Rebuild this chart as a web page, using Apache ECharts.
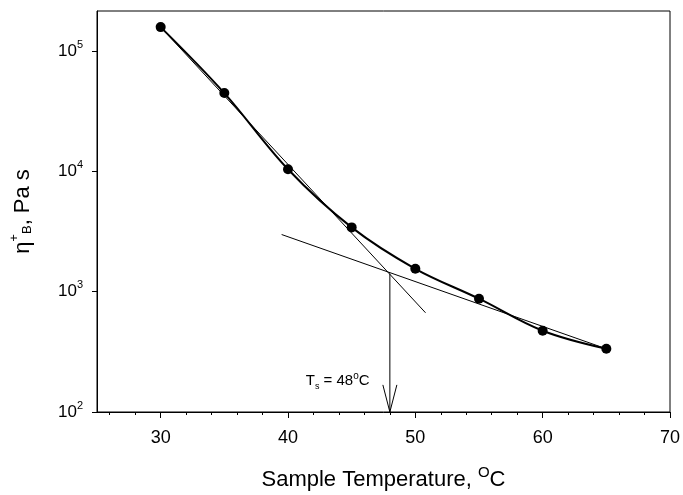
<!DOCTYPE html>
<html>
<head>
<meta charset="utf-8">
<script src="https://cdn.jsdelivr.net/npm/echarts@6/dist/echarts.min.js"></script>
<style>
    html,body{margin:0;padding:0;background:#fff;}
    #chart{width:683px;height:495px;}
</style>
</head>
<body>
<div id="chart"></div>
<script>
    // measured points: sample temperature (C) vs viscosity (Pa s)
    var temps = [30, 35, 40, 45, 50, 55, 60, 65];
    var visc = [158000, 44700, 10400, 3420, 1550, 874, 473, 335];
    // tangent lines drawn on the plot
    var lineSteep = [[30, 158000], [50.8, 668]];
    var lineFlat = [[39.5, 2985], [65, 335]];
    // softening point arrow
    var arrowShaft = [[48, 1413], [48, 100]];
    var arrowHead = [[47.45, 168], [48, 100], [48.55, 168]];
    var xMajor = [30, 40, 50, 60, 70];
    var xMinor = [26, 28, 32, 34, 36, 38, 42, 44, 46, 48, 52, 54, 56, 58, 62, 64, 66, 68];
    var yMajor = [100, 1000, 10000, 100000];

    var font = 'Liberation Sans, Arial, sans-serif';
    var myChart = echarts.init(document.getElementById('chart'));

    var points = temps.map(function (t, i) { return [t, visc[i]]; });

    function plain(data, w) {
        return {
            type: 'line', data: data, symbol: 'none', silent: true, clip: false,
            lineStyle: {color: '#000', width: w}, z: 3
        };
    }

    var option = {
        animation: false,
        grid: {
            left: 97, right: 13, top: 11, bottom: 83, outerBoundsMode: 'none', containLabel: false,
            show: true, borderColor: '#000', borderWidth: 1
        },
        xAxis: [{
            type: 'value', min: 25, max: 70,
            name: '{t|Sample Temperature, }{s|O}{t|C}',
            nameLocation: 'middle', nameGap: 53,
            nameTextStyle: {
                rich: {
                    t: {fontFamily: font, fontSize: 22, color: '#000', lineHeight: 30},
                    s: {fontFamily: font, fontSize: 15, color: '#000', verticalAlign: 'top', lineHeight: 30}
                }
            },
            splitLine: {show: false},
            axisLine: {lineStyle: {color: '#000', width: 1}},
            axisTick: {length: 6, lineStyle: {color: '#000'}, customValues: xMajor},
            axisLabel: {customValues: xMajor, fontFamily: font, fontSize: 18, color: '#000', margin: 17}
        }, {
            type: 'value', min: 25, max: 70, position: 'bottom', gridIndex: 0,
            splitLine: {show: false},
            axisLine: {show: false},
            axisTick: {length: 3, lineStyle: {color: '#000'}, customValues: xMinor},
            axisLabel: {show: false}
        }],
        yAxis: {
            type: 'log', min: 100, max: 215000, logBase: 10,
            name: '{t|η}{p|+}{b|B}{t|, Pa s}',
            nameLocation: 'middle', nameGap: 59, nameRotate: 90,
            nameTextStyle: {
                rich: {
                    t: {fontFamily: font, fontSize: 22, color: '#000', lineHeight: 30},
                    p: {fontFamily: font, fontSize: 13, color: '#000', verticalAlign: 'top', lineHeight: 30},
                    b: {fontFamily: font, fontSize: 13, color: '#000', verticalAlign: 'middle', lineHeight: 30, padding: [8, 0, 0, 0]}
                }
            },
            splitLine: {show: false},
            axisLine: {lineStyle: {color: '#000', width: 1}},
            axisTick: {length: 5, lineStyle: {color: '#000'}, customValues: yMajor},
            axisLabel: {
                customValues: yMajor, margin: 14,
                formatter: function (v) {
                    return '{b|10}{s|' + Math.round(Math.log10(v)) + '}';
                },
                rich: {
                    b: {fontFamily: font, fontSize: 17, color: '#000', lineHeight: 24},
                    s: {fontFamily: font, fontSize: 11, color: '#000', verticalAlign: 'top', lineHeight: 24}
                }
            }
        },
        series: [
            plain(lineSteep, 1),
            plain(lineFlat, 1),
            plain(arrowShaft, 1),
            plain(arrowHead, 1),
            {
                type: 'line', data: points, smooth: 0.35, clip: false,
                symbol: 'circle', symbolSize: 10,
                itemStyle: {color: '#000'},
                lineStyle: {color: '#000', width: 2},
                z: 4,
                markPoint: {
                    symbol: 'circle', symbolSize: 1,
                    itemStyle: {color: 'rgba(0,0,0,0)'},
                    data: [{coord: [43.9, 181]}],
                    label: {
                        show: true, position: 'inside',
                        formatter: '{t|T}{b|s}{t| = 48}{p|o}{t|C}',
                        rich: {
                            t: {fontFamily: font, fontSize: 15, color: '#000', lineHeight: 20},
                            b: {fontFamily: font, fontSize: 9, color: '#000', verticalAlign: 'bottom', lineHeight: 20},
                            p: {fontFamily: font, fontSize: 10, color: '#000', verticalAlign: 'top', lineHeight: 20}
                        }
                    }
                }
            }
        ]
    };
    myChart.setOption(option);
</script>
</body>
</html>
